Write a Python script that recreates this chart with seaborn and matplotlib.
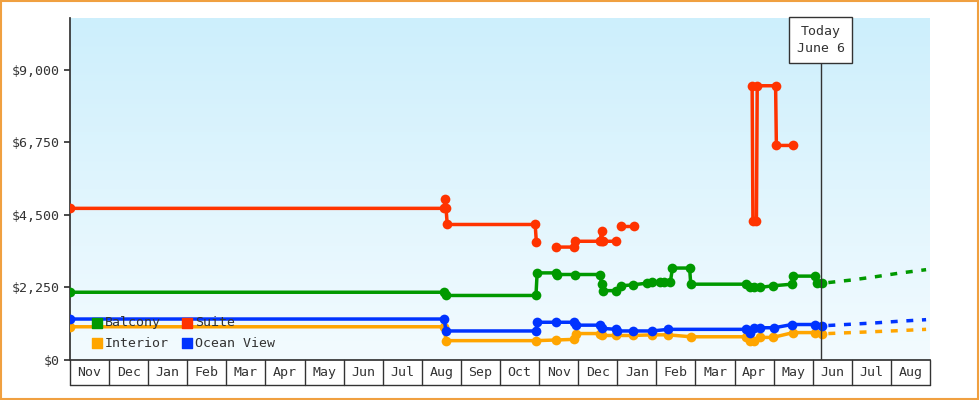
import numpy as np
import matplotlib
matplotlib.use("Agg")
import matplotlib.pyplot as plt
import seaborn as sns
import pandas as pd

sns.set_theme(style="white")
plt.rcParams['font.family'] = ['DejaVu Sans Mono']

months = ["Nov","Dec","Jan","Feb","Mar","Apr","May","Jun","Jul","Aug","Sep",
          "Oct","Nov","Dec","Jan","Feb","Mar","Apr","May","Jun","Jul","Aug"]
yticks = [0, 2250, 4500, 6750, 9000]
ytick_labels = ["$0", "$2,250", "$4,500", "$6,750", "$9,000"]

# x in months since start of first Nov; None breaks the line
suite_x = [0.0, 9.57, 9.6, 9.62, 9.65, 11.9, 11.93, None, 12.43, 12.9, 12.92, 13.56, 13.6, 13.62, 13.64, 13.98, None, 14.09, 14.42, None,
           17.45, 17.47, 17.56, 17.58, 18.05, 18.07, 18.5]
suite_y = [4700, 4700, 5000, 4700, 4200, 4200, 3650, None, 3500, 3500, 3680, 3680, 4000, 3680, 3680, 3680, None, 4150, 4150, None,
           8500, 4300, 4300, 8500, 8500, 6650, 6650]
balc_x = [0.0, 9.57, 9.62, 11.92, 11.95, 12.43, 12.45, 12.92, 13.56, 13.6, 13.64, 13.98, 14.1, 14.4, 14.75, 14.9, 15.1, 15.2, 15.36,
          15.41, 15.85, 15.88, 17.3, 17.4, 17.5, 17.65, 17.98, 18.47, 18.5, 19.07, 19.12, 19.23]
balc_y = [2100, 2100, 2000, 2000, 2700, 2700, 2650, 2650, 2650, 2350, 2150, 2150, 2300, 2330, 2380, 2420, 2420, 2420, 2420,
          2850, 2850, 2350, 2350, 2250, 2250, 2250, 2300, 2350, 2600, 2600, 2400, 2400]
ocean_x = [0.0, 9.57, 9.62, 11.92, 11.95, 12.43, 12.9, 12.95, 13.56, 13.62, 13.98, 14.0, 14.4, 14.9, 15.3, 17.3, 17.4, 17.5, 17.65, 18.02, 18.47, 19.07, 19.23]
ocean_y = [1270, 1270, 900, 900, 1170, 1170, 1170, 1080, 1080, 980, 950, 900, 900, 900, 950, 950, 850, 1000, 1000, 1000, 1100, 1100, 1050]
inter_x = [0.0, 9.57, 9.62, 11.92, 12.43, 12.9, 12.95, 13.56, 13.62, 13.98, 14.4, 14.9, 15.3, 15.88, 17.3, 17.4, 17.5, 17.65, 17.98, 18.5, 19.07, 19.23]
inter_y = [1030, 1030, 600, 600, 620, 640, 820, 820, 760, 760, 760, 780, 780, 720, 720, 580, 600, 700, 700, 850, 850, 820]
fc_x = [19.4, 20.0, 20.6, 21.2, 21.9]
fc_balc = [2400, 2480, 2580, 2690, 2800]
fc_ocean = [1070, 1110, 1150, 1200, 1250]
fc_inter = [820, 850, 880, 910, 950]
today_x = 19.2

def seg(xs, ys):
    out, cx, cy = [], [], []
    for a, b in zip(xs, ys):
        if a is None:
            out.append((cx, cy)); cx, cy = [], []
        else:
            cx.append(a); cy.append(b)
    out.append((cx, cy))
    return out

fig = plt.figure(figsize=(9.8, 4.0), dpi=100)
fig.patch.set_facecolor("white")
ax = fig.add_axes([70/980, 40/400, 860/980, 342/400])
ax.set_xlim(0, 22)
ax.set_ylim(0, 10600)

grad = np.linspace(0, 1, 256).reshape(-1, 1)
cmap = matplotlib.colors.LinearSegmentedColormap.from_list("g", ["#f3fbff", "#cdeffc"])
ax.imshow(grad, cmap=cmap, aspect="auto", extent=[0, 22, 0, 10600], origin="lower", zorder=0)

series = [("Suite", suite_x, suite_y, "#ff3300"), ("Balcony", balc_x, balc_y, "#009900"),
          ("Ocean View", ocean_x, ocean_y, "#0033ff"), ("Interior", inter_x, inter_y, "#ffa500")]
for name, xs, ys, c in series[::-1]:
    for sx, sy in seg(xs, ys):
        df = pd.DataFrame({"x": sx, "y": sy})
        sns.lineplot(data=df, x="x", y="y", ax=ax, color=c, lw=2.5, sort=False,
                     marker="o", markersize=7, markeredgewidth=0, zorder=3)
for ys, c in [(fc_balc, "#009900"), (fc_ocean, "#0033ff"), (fc_inter, "#ffa500")]:
    ax.plot(fc_x, ys, color=c, lw=2.5, ls=(0, (2, 2.5)), zorder=3)

ax.axvline(today_x, color="#333333", lw=1, ymax=9900/10600, zorder=4)
ax.text(today_x, 9930, "Today\nJune 6", ha="center", va="center", fontsize=9.5, color="#333333",
        linespacing=1.4, bbox=dict(boxstyle="square,pad=0.6", fc="white", ec="#333333", lw=1), zorder=5)

ax.set_yticks(yticks)
ax.set_yticklabels(ytick_labels, fontsize=9.5)
ax.set_xticks([])
ax.set_xlabel(""); ax.set_ylabel("")
for s in ["top", "right"]:
    ax.spines[s].set_visible(False)
ax.spines["left"].set_color("#333333")
ax.spines["bottom"].set_color("#333333")
ax.tick_params(axis="y", length=4, color="#333333", left=True, labelcolor="#333333")

tr = ax.get_xaxis_transform()
band = -25/342
ax.plot([0, 0], [0, band], transform=tr, color="#333333", lw=1, clip_on=False)
ax.plot([0, 22], [band, band], transform=tr, color="#333333", lw=1, clip_on=False)
for i, m in enumerate(months):
    ax.plot([i+1, i+1], [0, band], transform=tr, color="#333333", lw=1, clip_on=False)
    ax.text(i+0.5, band/2, m, transform=tr, ha="center", va="center", fontsize=9.5, color="#333333")

# legend
leg = [("Balcony", "#009900", 0.7, 1150), ("Suite", "#ff3300", 3.0, 1150),
       ("Interior", "#ffa500", 0.7, 520), ("Ocean View", "#0033ff", 3.0, 520)]
for name, c, lx, ly in leg:
    ax.scatter([lx], [ly], marker="s", s=60, color=c, zorder=6)
    ax.text(lx+0.2, ly, name, va="center", fontsize=9.5, color="#333333", zorder=6)

fig.add_artist(matplotlib.patches.Rectangle((0.001, 0.002), 0.997, 0.995, transform=fig.transFigure,
                                             fill=False, ec="#f0a040", lw=1.5))
fig.savefig("out.png", dpi=100)
